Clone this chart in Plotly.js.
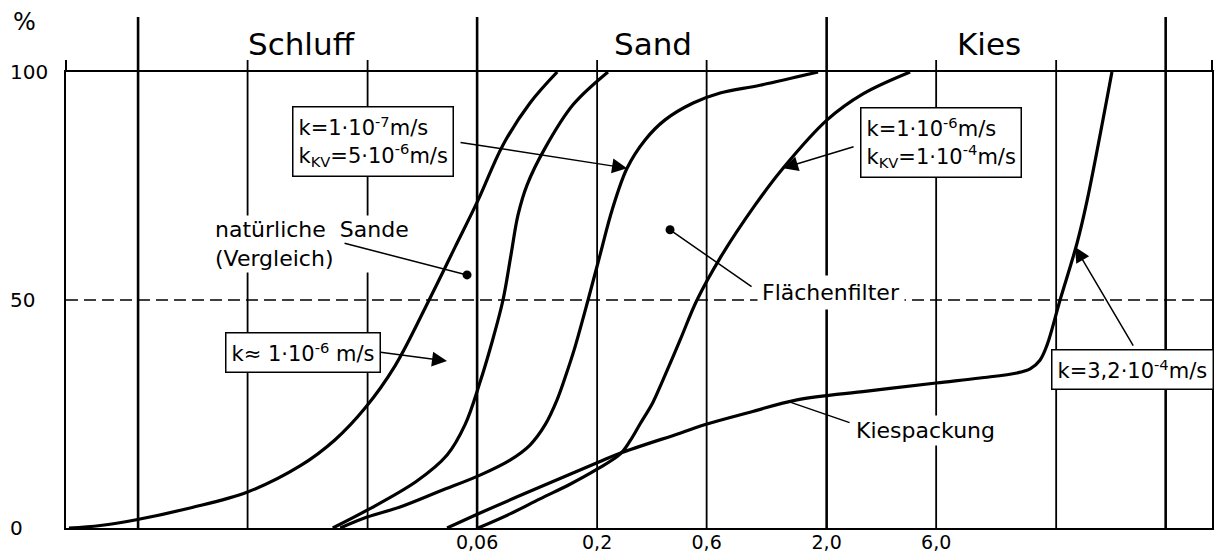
<!DOCTYPE html>
<html>
<head>
<meta charset="utf-8">
<script src="https://cdn.plot.ly/plotly-3.0.1.min.js"></script>
<style>html,body{margin:0;padding:0;background:#fff;}#chart{width:1220px;height:556px;}</style>
</head>
<body>
<div id="chart"></div>
<script>
// ---- data (grain diameter in mm, cumulative passing in %) ----
const naturSandeD = [0.001, 0.00137, 0.00194, 0.00337, 0.006, 0.01015, 0.0144, 0.0195, 0.0263, 0.0374, 0.0481, 0.0606, 0.0778, 0.102, 0.134];
const naturSandeP = [0, 0.55, 1.75, 4.4, 7.9, 13.6, 19.3, 26.3, 35.5, 50.4, 61.6, 71.9, 84.0, 93.2, 100];

const filter1D = [0.0141, 0.0199, 0.0328, 0.0444, 0.0531, 0.0618, 0.0697, 0.0778, 0.0843, 0.0904, 0.099, 0.1186, 0.157, 0.223];
const filter1P = [0, 3.9, 10.3, 16.0, 22.6, 32.0, 40.8, 50.0, 59.9, 68.6, 75.2, 83.3, 92.8, 100];

const filter2D = [0.0152, 0.0199, 0.0277, 0.0414, 0.0618, 0.0835, 0.102, 0.1186, 0.1338, 0.1464, 0.1587, 0.1826, 0.206, 0.2323, 0.27, 0.3236, 0.3954, 0.524, 0.687, 1.025, 1.835];
const filter2P = [0, 2.4, 4.6, 8.1, 11.6, 14.9, 18.2, 22.6, 28.1, 33.6, 39.0, 50.0, 59.9, 69.7, 78.9, 85.1, 89.5, 93.2, 95.4, 97.1, 100];

const filter3D = [0.0606, 0.0835, 0.1128, 0.1524, 0.2, 0.2517, 0.2782, 0.3076, 0.3504, 0.3836, 0.4595, 0.5448, 0.6866, 0.975, 1.291, 2.01, 2.88, 4.62];
const filter3P = [0, 3.1, 6.4, 9.6, 12.9, 16.2, 19.1, 22.8, 27.6, 32.0, 41.2, 50.0, 59.2, 70.8, 78.9, 89.5, 95.2, 100];

const kiesD = [0.0444, 0.0618, 0.1128, 0.2, 0.2517, 0.4595, 0.6026, 0.9275, 1.486, 3.0, 6.0, 9.32, 13.5, 15.4, 17.0, 18.25, 20.8, 24.67, 27.3, 35.0];
const kiesP = [0, 3.3, 9.0, 14.3, 16.4, 20.8, 22.8, 25.4, 28.1, 30.0, 31.8, 32.9, 34.0, 34.9, 36.8, 40.1, 50.0, 62.5, 71.9, 100];

const gridMinor = [0.006, 0.02, 0.2, 0.6, 6, 20];
const gridMajor = [0.002, 0.06, 2, 60];
const xTickVals = [0.06, 0.2, 0.6, 2, 6];
const xTickText = ['0,06', '0,2', '0,6', '2,0', '6,0'];
const yTickVals = [0, 50, 100];
const yTickText = ['0', '50', '100'];
const classNames = ['Schluff', 'Sand', 'Kies'];

// ---- traces ----
const series = [
  [naturSandeD, naturSandeP],
  [filter1D, filter1P],
  [filter2D, filter2P],
  [filter3D, filter3P],
  [kiesD, kiesP]
];
const traces = series.map(s => ({
  x: s[0], y: s[1], type: 'scatter', mode: 'lines',
  line: {color: '#000', width: 3.2, shape: 'spline', smoothing: 1},
  hoverinfo: 'skip'
}));

// ---- shapes ----
const shapes = [];
gridMinor.forEach(v => shapes.push({type: 'line', xref: 'x', yref: 'paper', x0: v, x1: v, y0: 0, y1: 1.0263, line: {color: '#000', width: 1.8}}));
gridMajor.forEach(v => shapes.push({type: 'line', xref: 'x', yref: 'paper', x0: v, x1: v, y0: 0, y1: 1.1206, line: {color: '#000', width: 2.6}}));
[0, 1].forEach(v => shapes.push({type: 'line', xref: 'paper', yref: 'paper', x0: v, x1: v, y0: 1, y1: 1.0263, line: {color: '#000', width: 2}}));
shapes.push({type: 'line', xref: 'paper', yref: 'y', x0: 0, x1: 1, y0: 50, y1: 50, line: {color: '#000', width: 1.6, dash: '12px,6px'}});

// ---- annotations ----
const F = 'DejaVu Sans';
const ann = [];
// y tick labels (left aligned as in the original)
yTickVals.forEach((v, i) => ann.push({xref: 'paper', yref: 'y', x: -0.0506, y: v, text: yTickText[i], showarrow: false, xanchor: 'left', yanchor: 'middle', font: {family: F, size: 20, color: '#000'}}));
ann.push({xref: 'paper', yref: 'paper', x: -0.0358, y: 1.1096, text: '%', showarrow: false, xanchor: 'center', yanchor: 'middle', font: {family: F, size: 24, color: '#000'}});
// soil class headers
const classX = [0.2059, 0.5122, 0.8054];
classNames.forEach((t, i) => ann.push({xref: 'paper', yref: 'paper', x: classX[i], y: 1.0625, text: t, showarrow: false, xanchor: 'center', yanchor: 'middle', font: {family: F, size: 31, color: '#000'}}));

// text labels
const lbl = {showarrow: false, xref: 'paper', yref: 'paper', bgcolor: '#fff', font: {family: F, size: 22, color: '#000'}};
ann.push(Object.assign({}, lbl, {x: 0.1283, y: 0.6239, xanchor: 'left', yanchor: 'middle', align: 'left', text: 'natürliche  Sande<br>(Vergleich)', borderpad: 1}));
ann.push(Object.assign({}, lbl, {x: 0.6675, y: 0.5175, xanchor: 'center', yanchor: 'middle', text: 'Flächenfilter', borderpad: 4}));
ann.push(Object.assign({}, lbl, {x: 0.75, y: 0.2149, xanchor: 'center', yanchor: 'middle', text: 'Kiespackung', borderpad: 2}));

// pointer arrows (empty text, tail offsets in px)
const arrowBase = {text: '', showarrow: true, arrowcolor: '#000', arrowwidth: 1.5, xref: 'x', yref: 'y'};
ann.push(Object.assign({}, arrowBase, {x: -0.5686, y: 78.9, ax: -168, ay: -26, arrowhead: 2, arrowsize: 2}));
ann.push(Object.assign({}, arrowBase, {x: 0.1112, y: 78.9, ax: 72, ay: -22, arrowhead: 2, arrowsize: 2}));
ann.push(Object.assign({}, arrowBase, {x: -1.3529, y: 36.6, ax: -68, ay: -9, arrowhead: 2, arrowsize: 2}));
ann.push(Object.assign({}, arrowBase, {x: 1.3835, y: 61.6, ax: 59, ay: 100, arrowhead: 2, arrowsize: 2}));
ann.push(Object.assign({}, arrowBase, {x: -1.2657, y: 55.5, ax: -124, ay: -32, arrowhead: 6, arrowsize: 1.5}));
ann.push(Object.assign({}, arrowBase, {x: -0.3812, y: 65.4, ax: 83, ay: 58, arrowhead: 6, arrowsize: 1.5}));
ann.push(Object.assign({}, arrowBase, {x: 0.1417, y: 27.6, ax: 61, ay: 21, arrowhead: 0}));

// boxed k-values
const box = {showarrow: false, xref: 'paper', yref: 'paper', bgcolor: '#fff', bordercolor: '#000', borderwidth: 1.5, borderpad: 5, align: 'left', xanchor: 'center', yanchor: 'middle', font: {family: F, size: 21, color: '#000'}};
ann.push(Object.assign({}, box, {x: 0.2683, y: 0.8465, text: 'k=1·10<sup>-7</sup>m/s<br>k<sub>KV</sub>=5·10<sup>-6</sup>m/s'}));
ann.push(Object.assign({}, box, {x: 0.7631, y: 0.8454, text: 'k=1·10<sup>-6</sup>m/s<br>k<sub>KV</sub>=1·10<sup>-4</sup>m/s'}));
ann.push(Object.assign({}, box, {x: 0.2064, y: 0.3849, text: 'k≈ 1·10<sup>-6</sup> m/s'}));
ann.push(Object.assign({}, box, {x: 0.9306, y: 0.3465, text: 'k=3,2·10<sup>-4</sup>m/s'}));

const layout = {
  width: 1220, height: 556,
  margin: {l: 66, r: 8, t: 72, b: 28},
  paper_bgcolor: '#fff', plot_bgcolor: '#fff',
  showlegend: false,
  font: {family: F, color: '#000', size: 20},
  xaxis: {type: 'log', range: [-3.013, 1.98], showgrid: false, zeroline: false, showline: true, mirror: true,
          linecolor: '#000', linewidth: 2, ticks: '', tickmode: 'array', tickvals: xTickVals, ticktext: xTickText,
          ticklabelstandoff: -4,
          tickfont: {family: F, size: 19, color: '#000'}, fixedrange: true},
  yaxis: {range: [0, 100], showgrid: false, zeroline: false, showline: true, mirror: true,
          linecolor: '#000', linewidth: 2, ticks: '', showticklabels: false, fixedrange: true},
  shapes: shapes,
  annotations: ann
};

Plotly.newPlot('chart', traces, layout, {staticPlot: true, displayModeBar: false});
</script>
</body>
</html>
